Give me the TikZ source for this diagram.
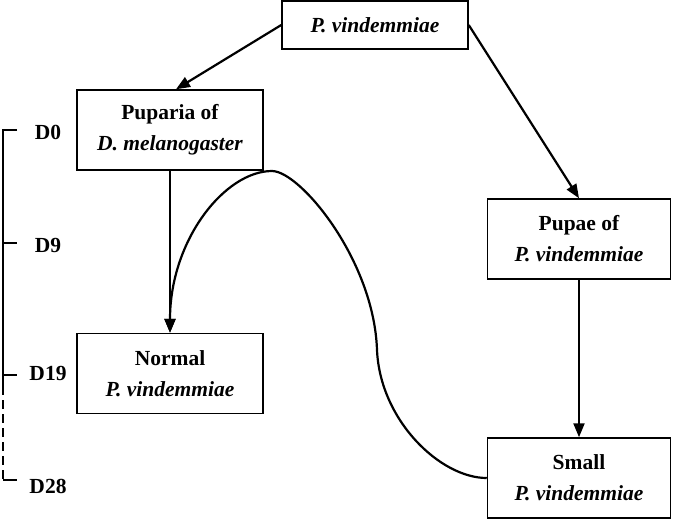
\documentclass[tikz,border=0pt]{standalone}
\usepackage{fontspec}
\setmainfont{Liberation Serif}
\usetikzlibrary{arrows.meta}
\newcommand{\boxfont}{\fontsize{21.5}{31}\selectfont\bfseries}

\begin{document}
\begin{tikzpicture}[x=1pt,y=-1pt]
\useasboundingbox (0,0) rectangle (674,520);
\tikzstyle{box}=[draw,
			line width=1.5pt,
			align=center,
			minimum width=186pt,
			minimum height=80pt,
			inner sep=0pt,
			font=\boxfont
			]
\tikzstyle{daylabel}=[font=\boxfont, inner sep=0pt]
\tikzstyle{flow}=[line width=2.2pt, -{Triangle[length=14pt,width=11pt]}]


\node[box, minimum height=48pt] (top) at (375,25) {\textit{P. vindemmiae}};


\node[box] (puparia) at (170,130) {Puparia of\\\textit{D. melanogaster}};


\node[box] (normal) at (170,373.5) {Normal\\\textit{P. vindemmiae}};


\node[box, minimum width=183pt] (pupae) at (579,239) {Pupae of\\\textit{P. vindemmiae}};


\node[box, minimum width=183pt] (small) at (579,478) {Small\\\textit{P. vindemmiae}};


\draw[flow] (top.west) -- ([xshift=6pt]puparia.north);
\draw[flow] (top.east) -- (pupae.north);
\draw[flow] (puparia.south) -- (normal.north);
\draw[flow] (pupae.south) -- (small.north);

\draw[flow] (small.west) .. controls (440,478) and (380,420) .. (377,350)
	.. controls (374,260) and (300,171) .. (272,171)
	.. controls (225,171) and (170,240) .. (normal.north);

% time line
\coordinate (t0) at (3,130);
\coordinate (t9) at (3,243);
\coordinate (t19) at (3,375);
\coordinate (t28) at (3,480);
\coordinate (tend) at (3,386);

\draw[line width=2.8pt] ([xshift=14pt]t0) -- (t0) -- (tend);
\draw[line width=2.8pt, dash pattern=on 9pt off 5pt] (tend) -- (t28);
\draw[line width=2.8pt] (t28) -- ++(14,0);
\draw[line width=2.6pt] (t9) -- ++(14,0);
\draw[line width=2.6pt] (t19) -- ++(14,0);

\node[daylabel] (d0) at (48,132) {D0};
\node[daylabel] (d9) at (48,245) {D9};
\node[daylabel] (d19) at (48,373) {D19};
\node[daylabel] (d28) at (48,486) {D28};

\end{tikzpicture}
\end{document}
